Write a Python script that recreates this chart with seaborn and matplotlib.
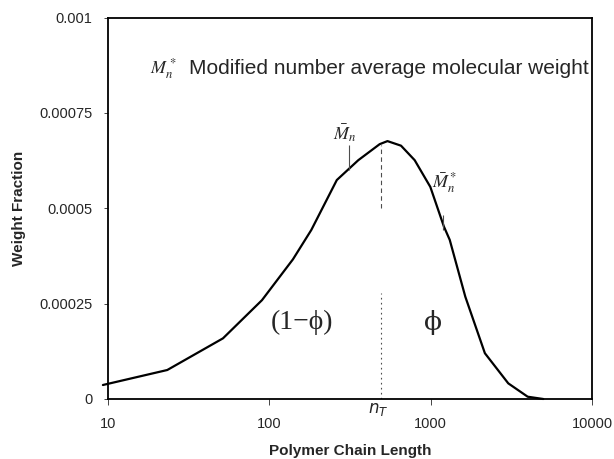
import matplotlib
matplotlib.use("Agg")
import matplotlib.pyplot as plt
import numpy as np
import pandas as pd
import seaborn as sns

# weight-fraction curve
chain_length = [9.3, 23.3, 51.6, 90, 140, 182, 262, 356, 483, 540, 655, 796,
                995, 1208, 1313, 1640, 2168, 3027, 3993, 4990]
weight_frac = [0.0000367, 0.000076, 0.000159, 0.000259, 0.000366, 0.000443,
               0.000574, 0.000626, 0.000668, 0.000676, 0.000664, 0.000626,
               0.000556, 0.000452, 0.000417, 0.000268, 0.000120, 0.000041,
               0.000006, 0.0]

x_ticks = [10, 100, 1000, 10000]
x_tick_labels = ["10", "100", "1000", "10000"]
y_ticks = [0, 0.00025, 0.0005, 0.00075, 0.001]
y_tick_labels = ["0", "0.00025", "0.0005", "0.00075", "0.001"]

# marker positions
mn_x, mn_span = 312, (0.0006, 0.000666)
nt_x = 491
nt_upper = (0.0005, 0.000666)
nt_lower = (0.0, 0.000277)
mnstar_x, mnstar_span = 1194, (0.000443, 0.000482)

sns.set_style("white")
plt.rcParams['font.family'] = ['Liberation Sans', 'DejaVu Sans']

df = pd.DataFrame({"n": chain_length, "w": weight_frac})

fig = plt.figure(figsize=(6.14, 4.59), dpi=100)
ax = fig.add_axes([108 / 614, 1 - 399 / 459, 484 / 614, 381.5 / 459])

sns.lineplot(data=df, x="n", y="w", ax=ax, color="black", lw=1.6)
ax.lines[0].set_clip_on(False)
ax.set_xscale("log")
ax.set_xlim(10, 10000)
ax.set_ylim(0, 0.001)
ax.set_xticks(x_ticks)
ax.set_xticklabels(x_tick_labels)
ax.set_yticks(y_ticks)
ax.set_yticklabels(y_tick_labels)
ax.minorticks_off()
ax.tick_params(axis="x", length=4, width=0.6, pad=9, labelsize=10.5, direction="out", bottom=True)
ax.tick_params(axis="y", length=3, width=0.6, pad=8, labelsize=10.5, direction="out", left=True)
for s in ax.spines.values():
    s.set_linewidth(1.3)
    s.set_color("black")

ax.set_xlabel("Polymer Chain Length", fontweight="bold", fontsize=11, labelpad=9)
ax.set_ylabel("Weight Fraction", fontweight="bold", fontsize=11, labelpad=10)

# marker lines
ax.vlines(mn_x, *mn_span, color="0.3", lw=0.8)
ax.vlines(nt_x, *nt_upper, color="0.3", lw=0.8, linestyles=(0, (4, 3)))
ax.vlines(nt_x, *nt_lower, color="0.3", lw=0.8, linestyles=(0, (1.5, 3)))
ax.vlines(mnstar_x, *mnstar_span, color="0.3", lw=0.8)

# annotations
ax.text(22, 0.000866, r"$M_n^*$", fontsize=13, ha="center", va="center", math_fontfamily="stix")
ax.text(32, 0.000866, "Modified number average molecular weight", fontsize=15,
        ha="left", va="center")
ax.text(294, 0.000697, r"$\bar{M}_n$", fontsize=13, ha="center", va="center", math_fontfamily="stix")
ax.text(1215, 0.000566, r"$\bar{M}_n^*$", fontsize=13, ha="center", va="center", math_fontfamily="stix")
ax.text(160, 0.0002, "(1\u2212\u03d5)", fontsize=20, ha="center", va="center",
        family=["Liberation Serif", "DejaVu Serif"])
ax.text(1035, 0.0002, "\u03d5", fontsize=19, ha="center", va="center",
        family=["DejaVu Serif"])
ax.text(472, -0.000028, r"$n_T$", fontsize=12, ha="center", va="center", clip_on=False,
        math_fontfamily="dejavusans")

fig.savefig("out.png", dpi=100)
